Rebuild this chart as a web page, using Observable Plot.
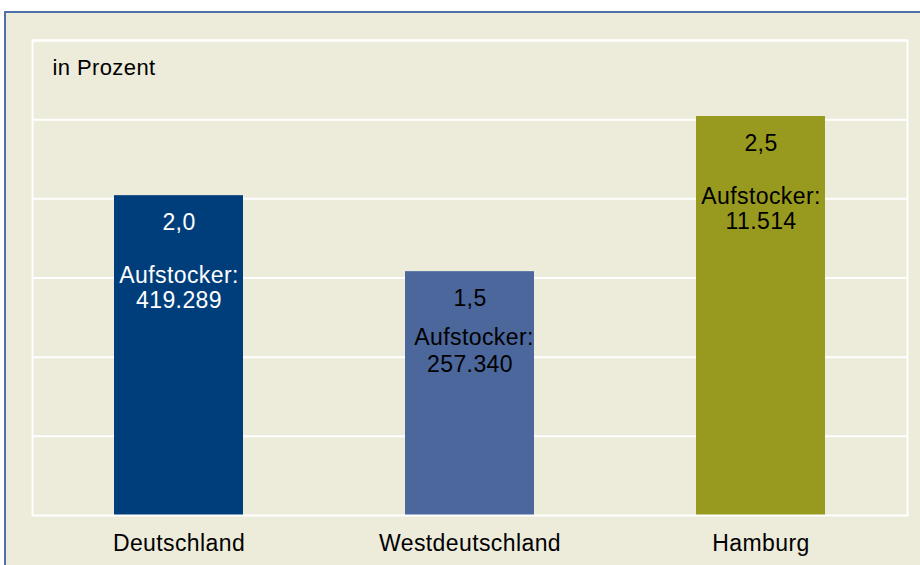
<!DOCTYPE html>
<html>
<head>
<meta charset="utf-8">
<script src="https://cdn.jsdelivr.net/npm/d3@7"></script>
<script src="https://cdn.jsdelivr.net/npm/@observablehq/plot@0.6"></script>
<style>
  html, body { margin: 0; padding: 0; background: #ffffff; overflow: hidden; }
  #frame { position: absolute; left: 4px; top: 11px; width: 940px; height: 580px;
           background: #EDEBDA; border: 2px solid #5070A8; }
  #chart { position: absolute; left: 0; top: 0; }
  #chart svg text { letter-spacing: 0.4px; }
</style>
</head>
<body>
<div id="frame"></div>
<div id="chart"></div>
<script>
const categories = ["Deutschland", "Westdeutschland", "Hamburg"];
const values = [2.02, 1.54, 2.52];
const valueLabels = ["2,0", "1,5", "2,5"];
const aufstockerLabel = "Aufstocker:";
const aufstockerCounts = ["419.289", "257.340", "11.514"];
const barColors = ["#003E7B", "#4B679C", "#989A1F"];
const labelColors = ["#ffffff", "#000000", "#000000"];
const yTicks = [0.5, 1, 1.5, 2, 2.5, 3];
const unitLabel = "in Prozent";

const data = categories.map((c, i) => ({
  category: c, value: values[i], valueLabel: valueLabels[i],
  count: aufstockerCounts[i], barColor: barColors[i], labelColor: labelColors[i]
}));
const lowLabel = data.filter(d => d.category === "Westdeutschland");
const highLabel = data.filter(d => d.category !== "Westdeutschland");

const font = 23;
const plot = Plot.plot({
  width: 920,
  height: 565,
  marginLeft: 32,
  marginRight: 13,
  marginTop: 40,
  marginBottom: 50,
  style: { background: "transparent", fontFamily: "'Liberation Sans', Arial, sans-serif", fontSize: "22px", color: "#000" },
  x: { domain: categories, paddingInner: 0.555, paddingOuter: 0.277, label: null },
  y: { domain: [0, 3], label: null },
  marks: [
    Plot.ruleY(yTicks, { stroke: "#ffffff", strokeWidth: 2 }),
    Plot.barY(data, { x: "category", y: "value", fill: "barColor" }),
    Plot.frame({ stroke: "#ffffff", strokeWidth: 2 }),
    Plot.text(data, { x: "category", y: "value", text: "valueLabel", fill: "labelColor", dy: 27, lineAnchor: "middle", fontSize: font }),
    Plot.text(highLabel, { x: "category", y: "value", text: () => aufstockerLabel, fill: "labelColor", dy: 80, lineAnchor: "middle", fontSize: font }),
    Plot.text(highLabel, { x: "category", y: "value", text: "count", fill: "labelColor", dy: 105, lineAnchor: "middle", fontSize: font }),
    Plot.text(lowLabel, { x: "category", y: "value", text: () => aufstockerLabel, fill: "labelColor", dy: 66, dx: 4, lineAnchor: "middle", fontSize: font }),
    Plot.text(lowLabel, { x: "category", y: "value", text: "count", fill: "labelColor", dy: 93, lineAnchor: "middle", fontSize: font }),
    Plot.text([unitLabel], { frameAnchor: "top-left", dx: 20, dy: 27, lineAnchor: "middle", textAnchor: "start", fontSize: 22, fill: "#000" }),
    Plot.axisX({ tickSize: 0, tickPadding: 19, fontSize: font, label: null }),
    Plot.axisY({ ticks: [], label: null })
  ]
});
document.getElementById("chart").appendChild(plot);
</script>
</body>
</html>
